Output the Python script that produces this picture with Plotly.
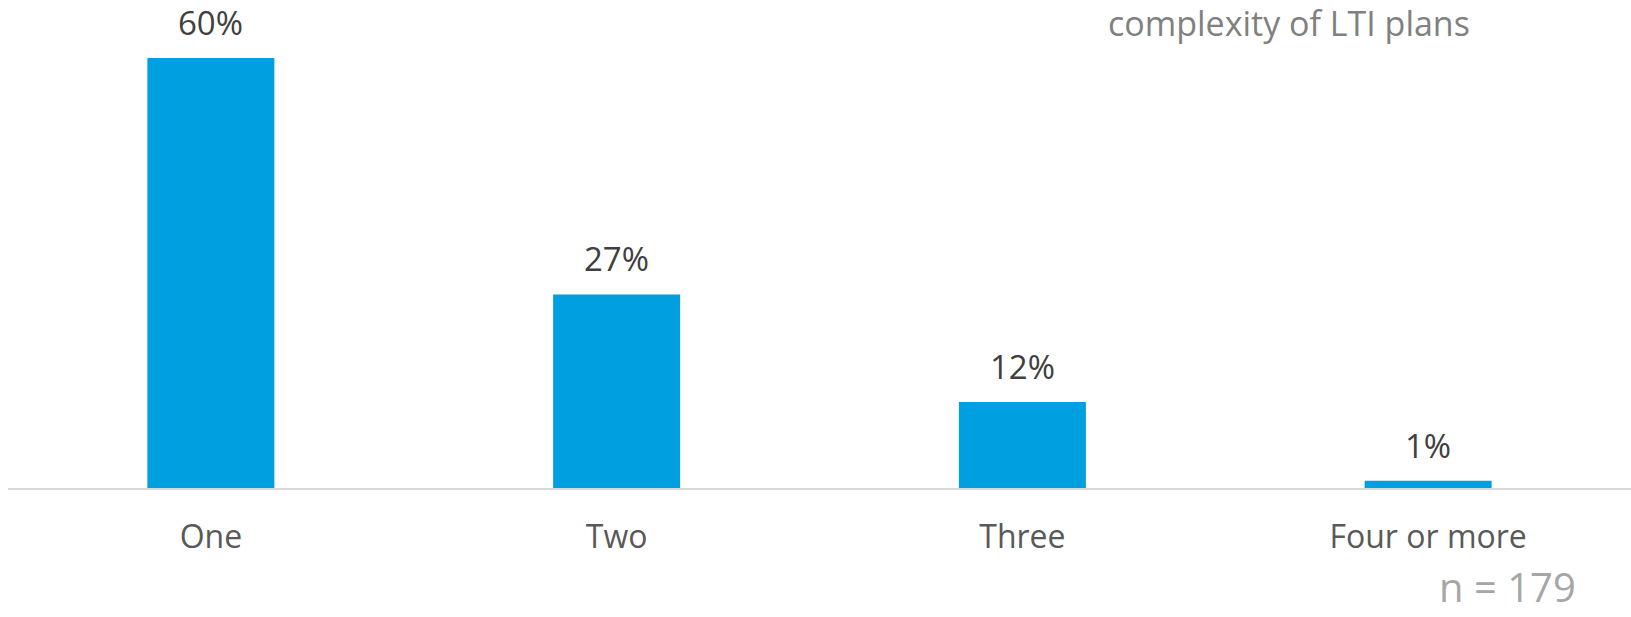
import plotly.graph_objects as go

# Number of LTI plans offered, share of respondents
categories = ["One", "Two", "Three", "Four or more"]
shares = [60, 27, 12, 1]
title_text = "complexity of LTI plans"
sample_note = "n = 179"

W, H = 1631, 617
M_L, M_R, M_T, M_B = 8, 0, 20, 129
plot_w = W - M_L - M_R
plot_h = H - M_T - M_B

FONT = "Open Sans"
BAR_COLOR = "#009FDF"

fig = go.Figure(
    go.Bar(
        x=categories,
        y=shares,
        marker=dict(color=BAR_COLOR, line=dict(width=0)),
        hoverinfo="skip",
    )
)

# value labels above each bar
for cat, val in zip(categories, shares):
    fig.add_annotation(
        x=cat, y=val, xref="x", yref="y",
        text=f"{val}%", showarrow=False,
        xanchor="center", yanchor="bottom", yshift=11,
        font=dict(family=FONT, size=33, color="#404040"),
    )

def px_to_paper_x(px):
    return (px - M_L) / plot_w

def px_to_paper_y(py):
    return (H - M_B - py) / plot_h

fig.add_annotation(
    text=title_text, showarrow=False,
    xref="paper", yref="paper",
    x=px_to_paper_x(1472), y=px_to_paper_y(23),
    xanchor="right", yanchor="middle",
    font=dict(family=FONT, size=34, color="#808080"),
)

# sample size note, bottom-right corner
fig.add_annotation(
    text=sample_note, showarrow=False,
    xref="paper", yref="paper",
    x=px_to_paper_x(1578), y=px_to_paper_y(616),
    xanchor="right", yanchor="bottom",
    font=dict(family=FONT, size=40, color="#A6A6A6"),
)

fig.update_layout(
    width=W, height=H,
    margin=dict(l=M_L, r=M_R, t=M_T, b=M_B, pad=0),
    paper_bgcolor="white", plot_bgcolor="white",
    bargap=0.687,
    showlegend=False,
    font=dict(family=FONT),
)

fig.update_xaxes(
    showline=True, linecolor="#D9D9D9", linewidth=2,
    showgrid=False, zeroline=False,
    ticks="", ticklabelstandoff=20,
    tickfont=dict(family=FONT, size=32, color="#595959"),
)
fig.update_yaxes(
    range=[0, 65.3], visible=False, showgrid=False, zeroline=False,
)

fig.write_html("out.html")
